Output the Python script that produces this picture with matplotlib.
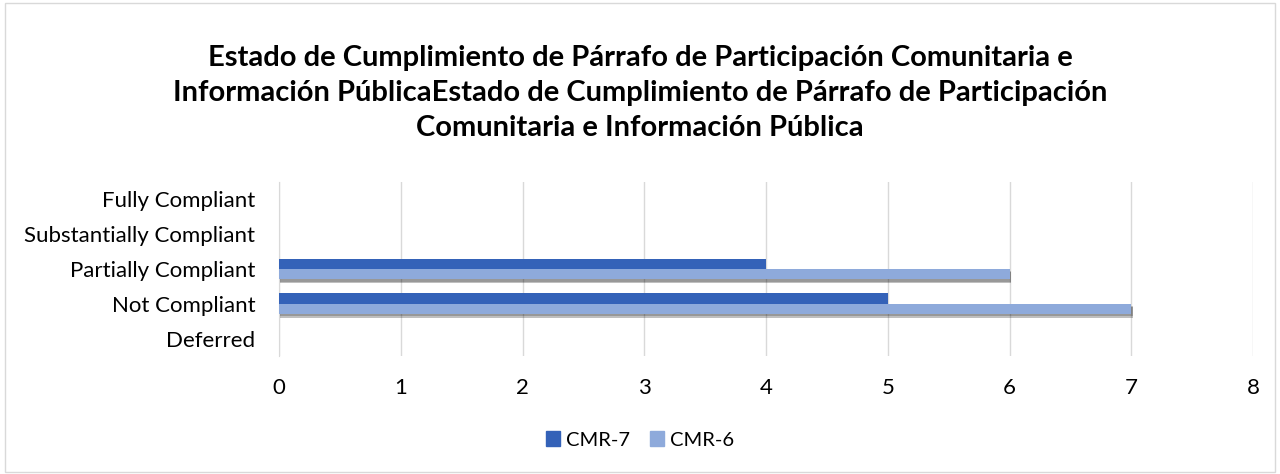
import numpy as np
import matplotlib
matplotlib.use('Agg')
from matplotlib import pyplot as plt
from matplotlib import patheffects as pe
from matplotlib.patches import Rectangle, Patch

plt.rcParams['font.family'] = ['Lato', 'DejaVu Sans']

categories = ['Fully Compliant', 'Substantially Compliant', 'Partially Compliant',
              'Not Compliant', 'Deferred']
cmr7 = [0, 0, 4, 5, 0]
cmr6 = [0, 0, 6, 7, 0]
title = ('Estado de Cumplimiento de Párrafo de Participación Comunitaria e\n'
         'Información PúblicaEstado de Cumplimiento de Párrafo de Participación\n'
         'Comunitaria e Información Pública')

c7, c6 = '#3462b8', '#8eaadb'

fig = plt.figure(figsize=(12.8, 4.74), dpi=100)
ax = fig.add_axes([279 / 1280, 1 - 356 / 474, (1253 - 279) / 1280, (356 - 182) / 474])

# frame around the whole chart
fig.patches.append(Rectangle((0.004, 0.004), 0.992, 0.99, transform=fig.transFigure,
                             fill=False, edgecolor='#d9d9d9', linewidth=1))

y = np.arange(len(categories))
h = 0.3
# soft drop shadow under the lower bar of each group
shadow = [pe.SimplePatchShadow(offset=(1, -2.5), shadow_rgbFace='black', alpha=0.25),
          pe.SimplePatchShadow(offset=(1, -1.5), shadow_rgbFace='black', alpha=0.2),
          pe.Normal()]
ax.barh(y - h / 2, cmr7, height=h, color=c7, zorder=3)
b6 = ax.barh(y + h / 2, cmr6, height=h, color=c6, zorder=3)
for b in list(b6):
    b.set_path_effects(shadow)

ax.set_ylim(len(categories) - 0.5, -0.5)
ax.set_xlim(0, 8)
ax.set_yticks(y)
ax.set_yticklabels(categories, fontsize=16)
ax.set_xticks(range(9))
ax.tick_params(axis='x', labelsize=16, length=0, pad=16)
ax.tick_params(axis='y', length=0, pad=17)
ax.grid(True, axis='x', color='#d9d9d9', linewidth=1, zorder=0)
for s in ['top', 'right', 'bottom']:
    ax.spines[s].set_visible(False)
ax.spines['left'].set_color('#d9d9d9')

fig.text(0.5, 1 - 93 / 474, title, ha='center', va='center', fontsize=21,
         fontweight='bold', linespacing=1.45)

handles = [Patch(color=c7, label='CMR-7'), Patch(color=c6, label='CMR-6')]
fig.legend(handles=handles, loc='center', bbox_to_anchor=(0.5, 1 - 440 / 474), ncol=2,
           frameon=False, fontsize=14.5, handlelength=0.7, handleheight=0.7,
           handletextpad=0.3, columnspacing=1.0)

fig.savefig('out.png', dpi=100)
